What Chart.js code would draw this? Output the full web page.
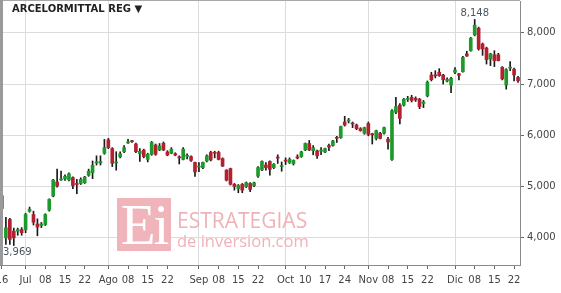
<!DOCTYPE html>
<html>
<head>
<meta charset="utf-8">
<script src="https://cdn.jsdelivr.net/npm/chart.js@4.4.1/dist/chart.umd.min.js"></script>
<style>
body{margin:0;background:#fff}
#wrap{position:relative;width:561px;height:293px;overflow:hidden}
#title{position:absolute;left:12px;top:3px;font:bold 10px "DejaVu Sans";color:#222;white-space:nowrap}
#wm{position:absolute;left:117px;top:198px}
#ei{position:absolute;left:0;top:0;width:54px;height:53px;background:#efb5bb;color:#fff;font:57px "Liberation Serif";line-height:53px;text-align:center;letter-spacing:-2px}
#wt1{position:absolute;left:60px;top:8px;font:21px "Open Sans";color:#efb2b8;white-space:nowrap}
#wt2{position:absolute;left:60px;top:31px;font:16.5px "Open Sans";color:#efb2b8;white-space:nowrap}
</style>
</head>
<body>
<div id="wrap">
<canvas id="c" width="561" height="293"></canvas>
<div id="title">ARCELORMITTAL REG ▼</div>
<div id="wm"><div id="ei">Ei</div><div id="wt1">ESTRATEGIAS</div><div id="wt2">de inversion.com</div></div>
</div>
<script>
// ===== datos (sesiones 23/06/2016 - 23/12/2016) =====
let open=[4570,4000,4358,4130,4130,4160,4160,4520,4455,4270,
4240,4260,4540,4815,5090,5130,5150,5130,5175,5060,
5060,5075,5220,5270,5460,5460,5650,5910,5740,5460,
5580,5680,5850,5880,5830,5640,5710,5530,5630,5810,
5715,5845,5675,5650,5640,5570,5530,5590,5585,5470,
5380,5370,5500,5665,5660,5665,5545,5320,5350,5045,
4960,5045,5000,5060,5020,5205,5325,5420,5490,5370,
5570,5390,5510,5470,5450,5580,5585,5715,5840,5700,
5695,5690,5675,5800,5800,5960,5955,6260,6280,6240,
6200,6130,6040,6230,6020,5940,6040,6040,5925,5530,
6450,6590,6590,6700,6740,6720,6705,6620,6771,7176,
7180,7229,7176,7060,6980,7229,7200,7240,7590,7650,
7960,8090,7780,7700,7490,7570,7570,7327,6980,7310,
7290,7130]
let high=[4860,4400,4380,4190,4190,4200,4480,4600,4520,4370,
4300,4470,4760,5140,5340,5300,5230,5270,5190,5140,
5170,5200,5340,5500,5600,5600,5920,5940,5760,5680,
5680,5800,5920,5900,5850,5740,5730,5650,5880,5830,
5840,5870,5700,5760,5660,5600,5760,5640,5600,5480,
5470,5480,5620,5690,5690,5690,5560,5330,5360,5060,
5040,5060,5090,5080,5090,5390,5500,5470,5500,5450,
5620,5480,5560,5560,5520,5620,5690,5850,5900,5800,
5710,5760,5750,5830,5900,5980,6180,6370,6330,6260,
6220,6150,6160,6260,6040,6100,6060,6160,5960,6500,
6740,6620,6720,6760,6780,6750,6720,6680,7060,7230,
7260,7300,7190,7120,7130,7320,7210,7540,7640,7910,
8260,8110,7800,7720,7600,7650,7600,7340,7300,7440,
7310,7150]
let low=[4530,3870,3870,3850,4050,4050,4100,4500,4250,4040,
4200,4240,4520,4800,4990,5120,5120,5110,4960,4860,
5040,5060,5200,5155,5420,5420,5630,5740,5390,5320,
5560,5660,5840,5860,5660,5490,5560,5480,5610,5610,
5700,5700,5600,5640,5600,5440,5520,5540,5490,5200,
5290,5350,5480,5500,5560,5520,5390,5110,5030,4930,
4880,4880,4980,4900,5000,5180,5310,5320,5220,5350,
5450,5300,5430,5450,5420,5540,5570,5700,5700,5620,
5550,5620,5660,5700,5790,5860,5940,6180,6240,6150,
6110,6080,6020,5990,5830,5910,5930,6020,5730,5510,
6420,6220,6570,6660,6650,6660,6520,6540,6750,7060,
7120,7150,7000,7040,6830,7200,7080,7230,7540,7640,
7940,7660,7560,7390,7360,7340,7450,7080,6900,7260,
7060,7030]
let close=[4820,4196,3969,4000,4160,4100,4455,4555,4305,4210,
4270,4455,4750,5127,5010,5150,5200,5250,5020,5040,
5140,5185,5300,5415,5480,5490,5760,5760,5455,5470,
5640,5760,5870,5875,5680,5690,5585,5630,5860,5630,
5790,5715,5615,5730,5615,5560,5730,5610,5510,5285,
5400,5470,5600,5520,5650,5530,5400,5125,5045,5000,
5020,4930,5075,4945,5075,5370,5490,5370,5335,5435,
5555,5410,5495,5530,5510,5555,5675,5840,5715,5760,
5600,5700,5740,5770,5890,5940,6170,6200,6290,6220,
6130,6090,6150,6020,6010,6090,5940,6150,5870,6480,
6560,6330,6705,6715,6680,6690,6560,6650,7033,7084,
7160,7163,7084,7090,7110,7274,7170,7520,7545,7895,
8148,7685,7685,7476,7590,7456,7456,7100,7280,7330,
7176,7065]

let xTickIdx=[0,6,11,16,21,27,32,37,42,50,55,60,65,72,77,82,87,93,98,103,108,115,120,125,130]
let xTickText=["16","Jul","08","15","22","Ago","08","15","22","Sep","08","15","22","Oct","10","17","24","Nov","08","15","22","Dic","08","15","22"]
let xMajor=[0,6,27,50,72,93,115]
let yTicks=[4000,5000,6000,7000,8000]

// dias habiles (categorias)
let dates=[]
let d=new Date(2016,5,23)
while(dates.length<close.length){
  if(d.getDay()!=0 && d.getDay()!=6) dates.push(d.toISOString().slice(0,10))
  d.setDate(d.getDate()+1)
}

let bodies=open.map((o,i)=>[o,close[i]])
let wicks=low.map((l,i)=>[l,high[i]])
let cols=open.map((o,i)=>close[i]>=o?"#1c9a2b":"#b42030")

// marco izquierdo / superior
const frame={
  id:"frame",
  afterDraw(chart){
    let a=chart.chartArea, c=chart.ctx
    c.save()
    c.fillStyle="#a8a8a8"
    c.fillRect(a.left,a.top-1,a.right-a.left,1)
    c.fillStyle="#9a9a9a"
    c.fillRect(0,a.top-1,3,a.bottom-a.top+1)
    c.restore()
  }
}

// max / min de cierre
const annot={
  id:"annot",
  afterDatasetsDraw(chart){
    let c=chart.ctx, x=chart.scales.x, y=chart.scales.y
    let iMax=close.indexOf(Math.max(...close))
    let iMin=close.indexOf(Math.min(...close))
    c.save()
    c.font="10px 'DejaVu Sans'"
    c.fillStyle="#4b5660"
    c.textAlign="center"
    c.textBaseline="bottom"
    let t1=close[iMax].toLocaleString("en-US")
    c.fillText(t1,x.getPixelForValue(iMax),y.getPixelForValue(high[iMax])-1)
    let t2=close[iMin].toLocaleString("en-US")
    let w=c.measureText(t2).width
    c.textBaseline="top"
    c.fillText(t2,Math.max(x.getPixelForValue(iMin),w/2+3),y.getPixelForValue(low[iMin])+3)
    c.restore()
  }
}

let chart=new Chart(document.getElementById("c"),{
  type:"bar",
  data:{
    labels:dates,
    datasets:[
      {data:bodies,backgroundColor:cols,barThickness:3,grouped:false,minBarLength:1,order:0},
      {data:wicks,backgroundColor:"#1a1a1a",barThickness:1,grouped:false,order:1}
    ]
  },
  options:{
    responsive:false,
    animation:false,
    devicePixelRatio:1,
    layout:{padding:{top:1,left:0,right:0,bottom:0}},
    plugins:{legend:{display:false},tooltip:{enabled:false}},
    scales:{
      x:{
        offset:true,
        grid:{
          offset:false,
          color:c=>c.tick && xMajor.includes(c.tick.value)?"#dcdcdc":"rgba(0,0,0,0)",
          tickColor:"#666",
          tickLength:4
        },
        border:{color:"#8a8a8a"},
        ticks:{
          autoSkip:false,maxRotation:0,padding:5,color:"#444",
          font:{family:"DejaVu Sans",size:10},
          callback:v=>xTickText[xTickIdx.indexOf(v)]
        },
        afterBuildTicks:s=>{s.ticks=xTickIdx.map(v=>({value:v}))},
        afterFit:s=>{s.height=28;s.paddingLeft=0;s.paddingRight=0}
      },
      y:{
        position:"right",
        min:3470,max:8620,
        grid:{color:"#dcdcdc",tickColor:"#666",tickLength:4},
        border:{color:"#8a8a8a"},
        ticks:{
          padding:3,color:"#444",
          font:{family:"DejaVu Sans",size:10},
          callback:v=>v.toLocaleString("en-US")
        },
        afterBuildTicks:s=>{s.ticks=yTicks.map(v=>({value:v}))},
        afterFit:s=>{s.width=41;s.paddingTop=0;s.paddingBottom=0}
      }
    }
  },
  plugins:[frame,annot]
})
</script>
</body>
</html>
